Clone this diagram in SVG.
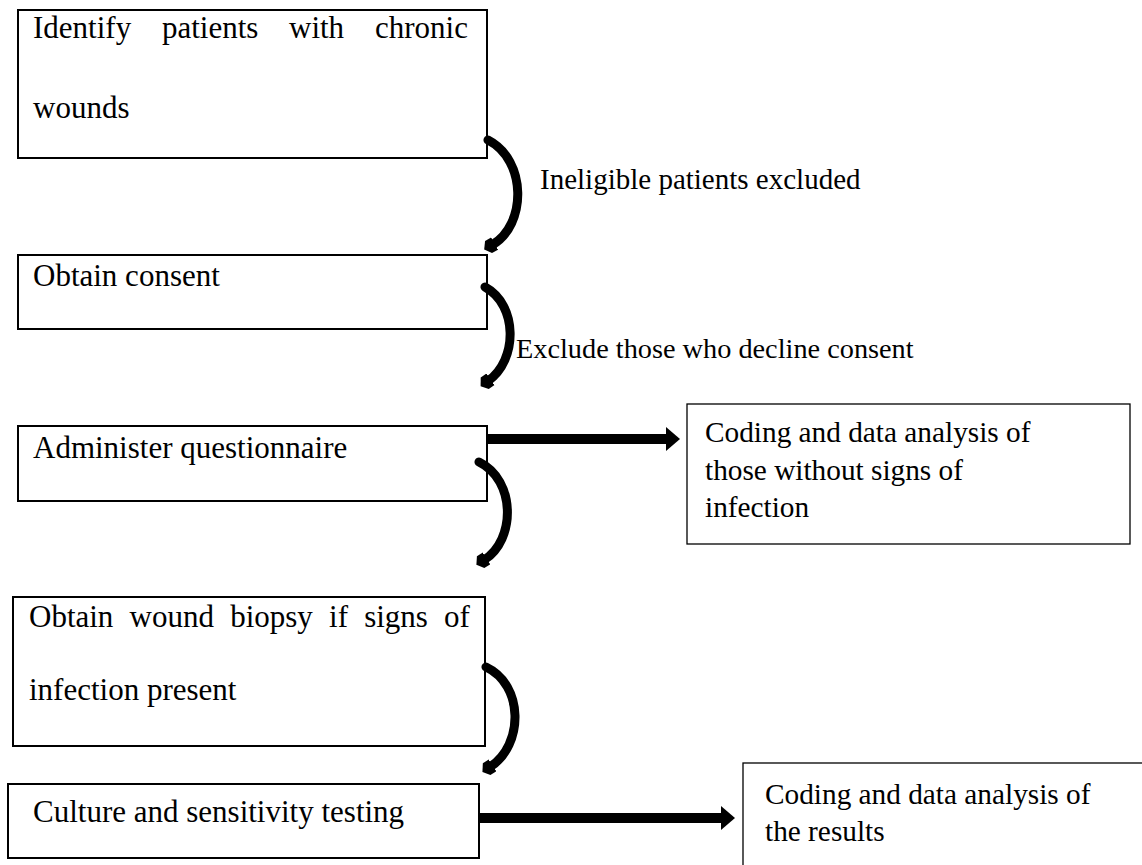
<svg xmlns="http://www.w3.org/2000/svg" width="1142" height="865" viewBox="0 0 1142 865">
<defs>
<style>
.box{fill:#fff;stroke:#000;stroke-width:2}
.rbox{fill:#fff;stroke:#000;stroke-width:1.3}
text{font-family:"Liberation Serif","Times New Roman",serif;fill:#000}
.l{font-size:31px}
.r{font-size:29.3px}
.lab{font-size:29px}
.arc{fill:none;stroke:#000;stroke-width:9;stroke-linecap:round}
.shaft{stroke:#000;stroke-width:10}
</style>
<marker id="ah" markerUnits="userSpaceOnUse" markerWidth="20" markerHeight="20" refX="3" refY="8" orient="auto">
<path d="M0,1 L7,1 L12,8 L7,15 L0,15 Z" fill="#000"/>
</marker>
</defs>
<rect width="1142" height="865" fill="#fff"/>
<g id="n1"><rect class="box" x="18" y="10" width="469" height="148"/>
<text class="l" y="38"><tspan x="33">Identify</tspan><tspan x="162">patients</tspan><tspan x="289">with</tspan><tspan x="375">chronic</tspan></text>
<text class="l" x="33" y="118">wounds</text></g>
<g id="n2"><rect class="box" x="18" y="255" width="469" height="74"/>
<text class="l" x="33" y="286">Obtain consent</text></g>
<g id="n3"><rect class="box" x="18" y="426" width="469" height="75"/>
<text class="l" x="33" y="458">Administer questionnaire</text></g>
<g id="n4"><rect class="box" x="13" y="597" width="472" height="149"/>
<text class="l" y="627"><tspan x="29">Obtain</tspan><tspan x="129.6">wound</tspan><tspan x="230.2">biopsy</tspan><tspan x="329.1">if</tspan><tspan x="364.2">signs</tspan><tspan x="444.1">of</tspan></text>
<text class="l" x="29" y="700">infection present</text></g>
<g id="n5"><rect class="box" x="8" y="784" width="471" height="74"/>
<text class="l" x="33" y="822">Culture and sensitivity testing</text></g>
<g id="n6"><rect class="rbox" x="687" y="404" width="443" height="140"/>
<text class="r" x="705" y="442">Coding and data analysis of</text>
<text class="r" x="705" y="480">those without signs of</text>
<text class="r" x="705" y="517">infection</text></g>
<g id="n7"><rect class="rbox" x="743" y="763" width="420" height="120"/>
<text class="r" x="765" y="804">Coding and data analysis of</text>
<text class="r" x="765" y="841">the results</text></g>
<g id="connectors">
<path class="arc" d="M488,140 C527,160 527,225 492,245" marker-end="url(#ah)"/>
<path class="arc" d="M485,287 C518,305 518,360 488,381" marker-end="url(#ah)"/>
<path class="arc" d="M479,462 C516,480 516,540 484,560" marker-end="url(#ah)"/>
<path class="arc" d="M486,667 C524,685 524,745 490,767" marker-end="url(#ah)"/>
<line class="shaft" x1="487" y1="439" x2="668" y2="439"/>
<polygon points="666,427 680,439 666,451"/>
<line class="shaft" x1="479" y1="818" x2="723" y2="818"/>
<polygon points="721,806 735,818 721,830"/>
<text class="lab" x="540" y="189">Ineligible patients excluded</text>
<text class="lab" font-size="28.3" style="font-size:28.3px" x="516" y="358">Exclude those who decline consent</text>
</g>
</svg>
